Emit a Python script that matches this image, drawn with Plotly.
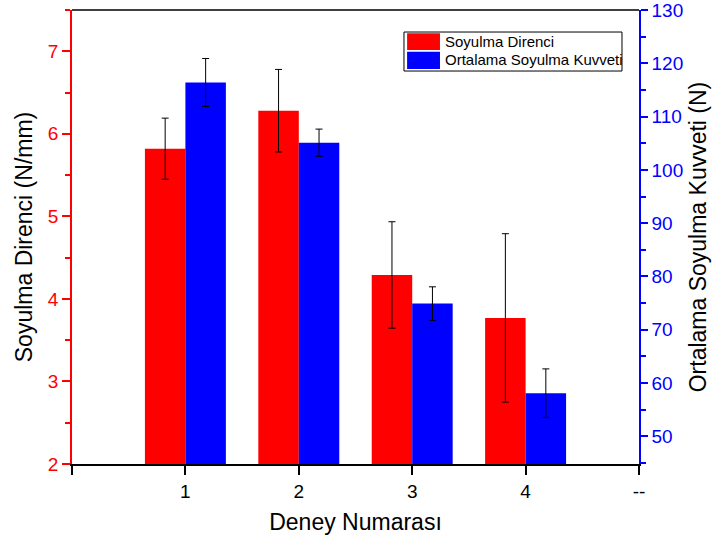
import plotly.graph_objects as go

experiments = [1, 2, 3, 4]
peel_resistance = [5.82, 6.28, 4.29, 3.77]
peel_resistance_err = [0.37, 0.50, 0.645, 1.02]
peel_force = [116.4, 105.1, 74.9, 58.1]
peel_force_err = [4.5, 2.55, 3.15, 4.55]
x_tickvals = [0, 1, 2, 3, 4, 5]
x_ticktext = ["", "1", "2", "3", "4", "--"]
name_red = "Soyulma Direnci"
name_blue = "Ortalama Soyulma Kuvveti"

FONT = "Liberation Sans, Arial, sans-serif"
RED = "#ff0000"
BLUE = "#0000ff"
bw = 0.357

fig = go.Figure()
fig.add_trace(go.Bar(
    x=experiments, y=peel_resistance, name=name_red,
    marker=dict(color=RED, line=dict(width=0)),
    width=bw, offset=-bw,
    error_y=dict(type="data", array=peel_resistance_err, color="black", thickness=1, width=3.5),
    yaxis="y", showlegend=False,
))
fig.add_trace(go.Bar(
    x=experiments, y=peel_force, name=name_blue,
    marker=dict(color=BLUE, line=dict(width=0)),
    width=bw, offset=0,
    error_y=dict(type="data", array=peel_force_err, color="black", thickness=1, width=3.5),
    yaxis="y2", showlegend=False,
))

# custom legend (box, swatches, labels) in paper coordinates
shapes = [
    dict(type="line", xref="paper", yref="paper", x0=0, x1=1, y0=1, y1=1,
         line=dict(color="black", width=1.5)),
    dict(type="rect", xref="paper", yref="paper", x0=0.5855, x1=0.970, y0=0.8656, y1=0.9515,
         line=dict(color="black", width=1), fillcolor="white", layer="above"),
    dict(type="rect", xref="paper", yref="paper", x0=0.591, x1=0.649, y0=0.9119, y1=0.9487,
         line=dict(width=0), fillcolor=RED, layer="above"),
    dict(type="rect", xref="paper", yref="paper", x0=0.591, x1=0.649, y0=0.8700, y1=0.9082,
         line=dict(width=0), fillcolor=BLUE, layer="above"),
]
annotations = [
    dict(xref="paper", yref="paper", x=0.654, y=0.9306, text=name_red, showarrow=False,
         xanchor="left", yanchor="middle", font=dict(size=15, color="black", family=FONT)),
    dict(xref="paper", yref="paper", x=0.654, y=0.8899, text=name_blue, showarrow=False,
         xanchor="left", yanchor="middle", font=dict(size=15, color="black", family=FONT)),
]

fig.update_layout(
    width=716, height=545,
    margin=dict(l=72, r=77, t=10, b=81),
    paper_bgcolor="white", plot_bgcolor="white",
    font=dict(family=FONT, color="black"),
    showlegend=False,
    shapes=shapes, annotations=annotations,
    xaxis=dict(range=[0, 5], tickvals=x_tickvals, ticktext=x_ticktext, automargin=False,
               ticks="outside", ticklen=9, tickcolor="black", tickwidth=1.5,
               showline=True, linecolor="black", linewidth=1.5,
               showgrid=False, zeroline=False,
               tickfont=dict(size=19, color="black"),
               title=dict(text="Deney Numarası", font=dict(size=23), standoff=13)),
    yaxis=dict(range=[2, 7.5], dtick=1, tick0=2, automargin=False,
               ticks="outside", ticklen=8, tickcolor=RED, tickwidth=1.5,
               ticklabelstandoff=0, ticklabeloverflow="allow",
               minor=dict(dtick=0.5, ticklen=5, tickcolor=RED, tickwidth=1.5, showgrid=False),
               showline=True, linecolor=RED, linewidth=1.5,
               showgrid=False, zeroline=False,
               tickfont=dict(size=19, color=RED),
               title=dict(text="Soyulma Direnci (N/mm)", font=dict(size=23, color="black"), standoff=9)),
    yaxis2=dict(range=[44.8, 130], dtick=10, tick0=50, overlaying="y", side="right", automargin=False,
                ticks="outside", ticklen=7, tickcolor=BLUE, tickwidth=1.5,
                ticklabeloverflow="allow",
                minor=dict(dtick=5, ticklen=5, tickcolor=BLUE, tickwidth=1.5, showgrid=False),
                showline=True, linecolor=BLUE, linewidth=1.5,
                showgrid=False, zeroline=False,
                tickfont=dict(size=19, color=BLUE),
                title=dict(text="Ortalama Soyulma Kuvveti (N)", font=dict(size=23, color="black"), standoff=8)),
)

fig.write_html("out.html")
